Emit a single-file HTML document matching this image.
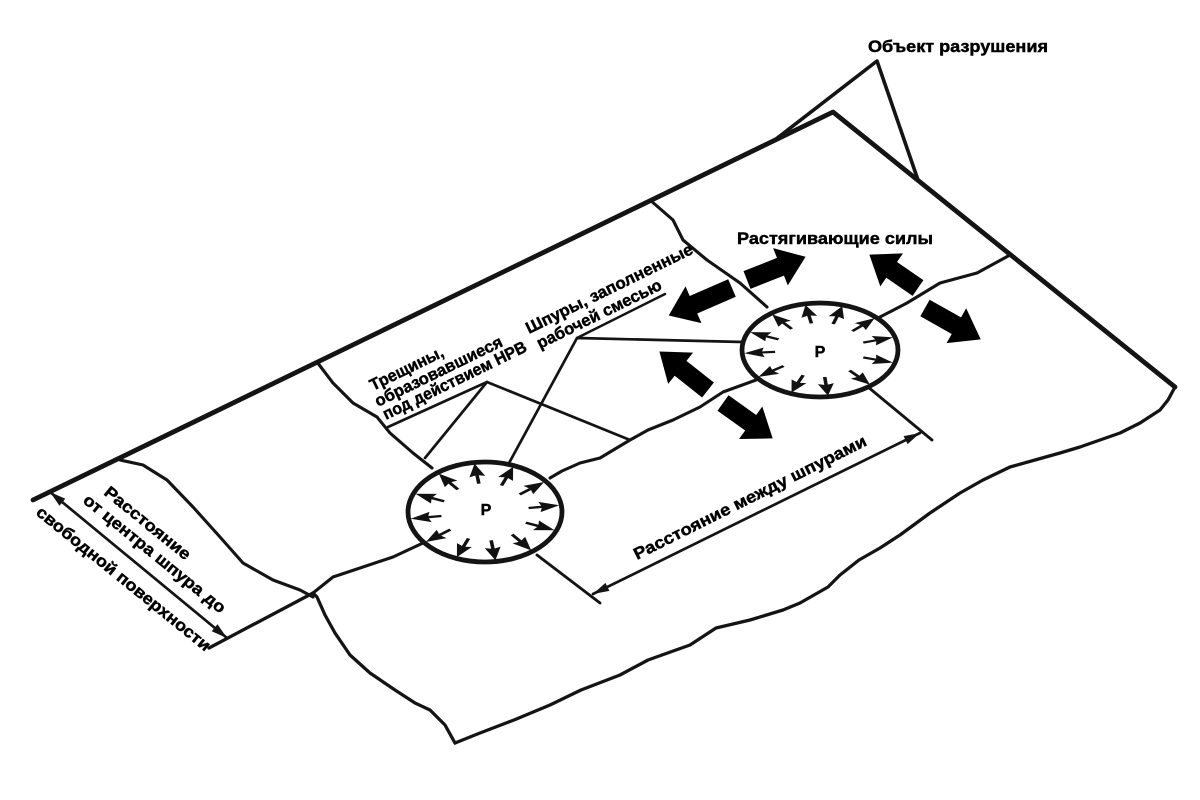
<!DOCTYPE html>
<html>
<head>
<meta charset="utf-8">
<style>
  html,body{margin:0;padding:0;background:#fff;}
  svg{display:block;}
  text{font-family:"Liberation Sans","DejaVu Sans",sans-serif;font-weight:bold;fill:#000;stroke:#000;stroke-width:0.45;}
</style>
</head>
<body>
<svg width="1200" height="800" viewBox="0 0 1200 800" xmlns="http://www.w3.org/2000/svg">
<rect width="1200" height="800" fill="#fff"/>

<g fill="none" stroke="#141414" stroke-linejoin="round" stroke-linecap="round">
  <path d="M33,500 L833,112 L1175,387" stroke-width="4.8"/>
  <path d="M776,139 L877,61 L918,180" stroke-width="3.6"/>
  <path stroke-width="3.3" d="M1175,387 L1168,400 L1160,410 L1140,423 L1120,433 L1100,440 L1080,447 L1060,453 L1035,460 L1010,467 L983,480 L960,493 L930,513 L900,535 L880,548 L859,560 L840,575 L828,587 L800,603 L783,610 L750,620 L716,628 L690,645 L648,660 L620,675 L581,690 L550,705 L514,720 L480,733 L455,743"/>
  <path stroke-width="3.3" d="M455,743 L445,725 L430,710 L415,703 L395,690 L370,673 L350,655 L335,633 L325,615 L317,597 L313,593"/>
  <path stroke-width="3.3" d="M209,648 L313,593"/>
  <path stroke-width="3.1" d="M120,460 L143,465 L167,480 L193,507 L220,537 L243,563 L273,580 L300,590 L313,597"/>
  <path stroke-width="3.1" d="M423,543 L393,557 L360,568 L333,577 L313,593"/>
  <path stroke-width="3.1" d="M317,362 L333,383 L353,403 L377,417 L390,433 L413,453 L432,468"/>
  <path stroke-width="2.7" d="M388,427 L487,382 L425,458"/>
  <path stroke-width="2.7" d="M487,382 L630,440"/>
  <path stroke-width="3.1" d="M550,478 L562,471 L580,463 L600,458 L630,440 L648,430 L673,420 L700,407 L723,392 L756,380"/>
  <path stroke-width="2.7" d="M508,465 L577,338 L743,342"/>
  <path stroke-width="2.5" d="M577,338 L665,294"/>
  <path stroke-width="3.1" d="M650,200 L673,220 L683,240 L707,260 L740,283 L767,307"/>
  <path stroke-width="3.1" d="M880,317 L907,303 L940,283 L977,273 L1010,255"/>
  <path stroke-width="2.9" d="M868,387 L932,440"/>
  <path stroke-width="2.9" d="M537,555 L600,603"/>
  <path stroke-width="2.7" d="M920,433 L593,594"/>
  <path stroke-width="2.7" d="M50,492 L227,638"/>
  <ellipse cx="485" cy="512" rx="77" ry="50" stroke-width="4.8"/>
  <ellipse cx="820" cy="350" rx="78" ry="47" stroke-width="4.8"/>
</g>

<g fill="#141414">
  <polygon points="920,433 907.6,444.1 903.6,436.1"/>
  <polygon points="593,594 609.4,590.9 605.4,582.9"/>
  <polygon points="50,492 59.5,505.7 65.3,498.7"/>
  <polygon points="227,638 211.7,631.3 217.5,624.3"/>
</g>

<g fill="#111">
  <g transform="translate(485,512) scale(1,0.649)">
    <path transform="rotate(-128)" d="M44,-1.8 L57,-1.8 L55,-8 L75,0 L55,8 L57,1.8 L44,1.8 Z"/>
    <path transform="rotate(-98)" d="M44,-1.8 L57,-1.8 L55,-8 L75,0 L55,8 L57,1.8 L44,1.8 Z"/>
    <path transform="rotate(-68)" d="M44,-1.8 L57,-1.8 L55,-8 L75,0 L55,8 L57,1.8 L44,1.8 Z"/>
    <path transform="rotate(-38)" d="M44,-1.8 L57,-1.8 L55,-8 L75,0 L55,8 L57,1.8 L44,1.8 Z"/>
    <path transform="rotate(-8)" d="M44,-1.8 L57,-1.8 L55,-8 L75,0 L55,8 L57,1.8 L44,1.8 Z"/>
    <path transform="rotate(22)" d="M44,-1.8 L57,-1.8 L55,-8 L75,0 L55,8 L57,1.8 L44,1.8 Z"/>
    <path transform="rotate(52)" d="M44,-1.8 L57,-1.8 L55,-8 L75,0 L55,8 L57,1.8 L44,1.8 Z"/>
    <path transform="rotate(82)" d="M44,-1.8 L57,-1.8 L55,-8 L75,0 L55,8 L57,1.8 L44,1.8 Z"/>
    <path transform="rotate(112)" d="M44,-1.8 L57,-1.8 L55,-8 L75,0 L55,8 L57,1.8 L44,1.8 Z"/>
    <path transform="rotate(142)" d="M44,-1.8 L57,-1.8 L55,-8 L75,0 L55,8 L57,1.8 L44,1.8 Z"/>
    <path transform="rotate(172)" d="M44,-1.8 L57,-1.8 L55,-8 L75,0 L55,8 L57,1.8 L44,1.8 Z"/>
    <path transform="rotate(202)" d="M44,-1.8 L57,-1.8 L55,-8 L75,0 L55,8 L57,1.8 L44,1.8 Z"/>
  </g>
  <g transform="translate(820,350) scale(1,0.603)">
    <path transform="rotate(-101)" d="M45,-1.8 L58,-1.8 L56,-8 L76,0 L56,8 L58,1.8 L45,1.8 Z"/>
    <path transform="rotate(-73)" d="M45,-1.8 L58,-1.8 L56,-8 L76,0 L56,8 L58,1.8 L45,1.8 Z"/>
    <path transform="rotate(-44)" d="M45,-1.8 L58,-1.8 L56,-8 L76,0 L56,8 L58,1.8 L45,1.8 Z"/>
    <path transform="rotate(-16)" d="M45,-1.8 L58,-1.8 L56,-8 L76,0 L56,8 L58,1.8 L45,1.8 Z"/>
    <path transform="rotate(16)" d="M45,-1.8 L58,-1.8 L56,-8 L76,0 L56,8 L58,1.8 L45,1.8 Z"/>
    <path transform="rotate(49)" d="M45,-1.8 L58,-1.8 L56,-8 L76,0 L56,8 L58,1.8 L45,1.8 Z"/>
    <path transform="rotate(84)" d="M45,-1.8 L58,-1.8 L56,-8 L76,0 L56,8 L58,1.8 L45,1.8 Z"/>
    <path transform="rotate(112)" d="M45,-1.8 L58,-1.8 L56,-8 L76,0 L56,8 L58,1.8 L45,1.8 Z"/>
    <path transform="rotate(144)" d="M45,-1.8 L58,-1.8 L56,-8 L76,0 L56,8 L58,1.8 L45,1.8 Z"/>
    <path transform="rotate(176)" d="M45,-1.8 L58,-1.8 L56,-8 L76,0 L56,8 L58,1.8 L45,1.8 Z"/>
    <path transform="rotate(203)" d="M45,-1.8 L58,-1.8 L56,-8 L76,0 L56,8 L58,1.8 L45,1.8 Z"/>
    <path transform="rotate(231)" d="M45,-1.8 L58,-1.8 L56,-8 L76,0 L56,8 L58,1.8 L45,1.8 Z"/>
  </g>
</g>

<g fill="#000">
  <polygon transform="translate(747,280) rotate(-21.6)" points="0,-9.5 36,-9.5 36,-20 63,0 36,20 36,9.5 0,9.5"/>
  <polygon transform="translate(732,288) rotate(156.5)" points="0,-9.5 42,-9.5 42,-20 69,0 42,20 42,9.5 0,9.5"/>
  <polygon transform="translate(918,288) rotate(-145.5)" points="0,-9.5 32,-9.5 32,-20 59,0 32,20 32,9.5 0,9.5"/>
  <polygon transform="translate(925,308) rotate(29.4)" points="0,-9.5 36,-9.5 36,-20 64,0 36,20 36,9.5 0,9.5"/>
  <polygon transform="translate(708,390) rotate(-141.6)" points="0,-9.5 35,-9.5 35,-20 62,0 35,20 35,9.5 0,9.5"/>
  <polygon transform="translate(723,403) rotate(35.5)" points="0,-9.5 34,-9.5 34,-20 61,0 34,20 34,9.5 0,9.5"/>
</g>

<text x="486" y="515" font-size="16" text-anchor="middle">P</text>
<text x="820" y="357" font-size="16" text-anchor="middle">P</text>

<text x="868" y="52" font-size="16.5" textLength="180" lengthAdjust="spacingAndGlyphs">Объект разрушения</text>
<text x="737" y="244" font-size="16.5" textLength="196" lengthAdjust="spacingAndGlyphs">Растягивающие силы</text>

<g transform="translate(373,391) rotate(-26)">
  <text x="0" y="0" font-size="16.5" textLength="80" lengthAdjust="spacingAndGlyphs">Трещины,</text>
</g>
<g transform="translate(378,407) rotate(-26)">
  <text x="0" y="0" font-size="16.5" textLength="140" lengthAdjust="spacingAndGlyphs">образовавшиеся</text>
</g>
<g transform="translate(386,420) rotate(-26)">
  <text x="0" y="0" font-size="16.5" textLength="158" lengthAdjust="spacingAndGlyphs">под действием НРВ</text>
</g>

<g transform="translate(529,334) rotate(-26.1)">
  <text x="0" y="0" font-size="16.5" textLength="184" lengthAdjust="spacingAndGlyphs">Шпуры, заполненные</text>
</g>
<g transform="translate(540,349) rotate(-26.1)">
  <text x="0" y="0" font-size="16.5" textLength="137" lengthAdjust="spacingAndGlyphs">рабочей смесью</text>
</g>

<g transform="translate(637,560) rotate(-26.5)">
  <text x="0" y="0" font-size="16.5" textLength="258" lengthAdjust="spacingAndGlyphs">Расстояние между шпурами</text>
</g>

<g transform="translate(103,494) rotate(39)">
  <text x="0" y="0" font-size="16.5" textLength="106" lengthAdjust="spacingAndGlyphs">Расстояние</text>
</g>
<g transform="translate(82,502) rotate(39)">
  <text x="0" y="0" font-size="16.5" textLength="178" lengthAdjust="spacingAndGlyphs">от центра шпура до</text>
</g>
<g transform="translate(35,514) rotate(39)">
  <text x="0" y="0" font-size="16.5" textLength="219" lengthAdjust="spacingAndGlyphs">свободной поверхности</text>
</g>
</svg>
</body>
</html>
